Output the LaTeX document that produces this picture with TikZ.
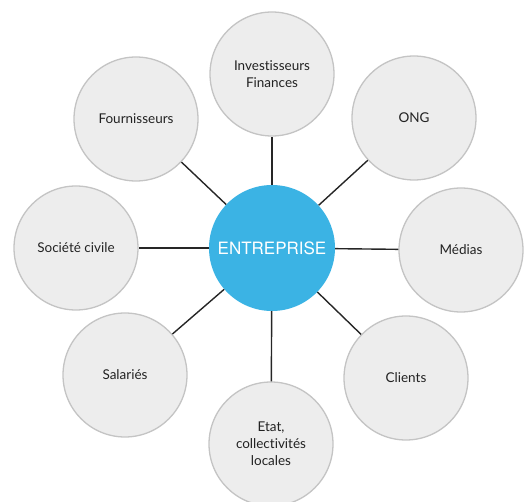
\documentclass[tikz,border=0pt]{standalone}
\usepackage{fontspec}
\setmainfont[Ligatures={NoCommon,NoRare}]{Lato}
\newfontfamily\heros{TeX Gyre Heros}
\usepackage{xcolor}
\usepackage{tikz}
\definecolor{hubblue}{HTML}{3BB3E4}
\definecolor{bubblefill}{HTML}{EDEDED}
\definecolor{bubbleline}{HTML}{C4C4C4}
\definecolor{labeltext}{HTML}{222222}
\tikzstyle{actor} = [circle, minimum size=124pt, inner sep=0pt, align=center, fill=bubblefill, draw=bubbleline, line width=1.3pt, text=labeltext, font=\fontsize{13.5}{17}\selectfont]
\tikzstyle{hub} = [circle, minimum size=126pt, inner sep=0pt, fill=hubblue, text=white, font=\heros\fontsize{17}{20}\selectfont]
\tikzstyle{link} = [line width=1.4pt, draw=black!85]

\begin{document}
\begin{tikzpicture}[x=1pt,y=-1pt]
    \useasboundingbox (0,0) rectangle (525,502);
    \node[hub] (ent) at (272,248) {ENTREPRISE};
    % stakeholders around the company
    \node[actor] (inv) at (272,74) {Investisseurs\\Finances};
    \node[actor] (ong) at (414,118) {ONG};
    \node[actor] (med) at (461,250) {M\'edias};
    \node[actor] (cli) at (406,378) {Clients};
    \node[actor] (eta) at (271,444) {Etat,\\collectivit\'es\\locales};
    \node[actor] (sal) at (125,375) {Salari\'es};
    \node[actor] (soc) at (76,248) {Soci\'et\'e civile};
    \node[actor] (fou) at (136,119) {Fournisseurs};
    % links
    \foreach \n in {inv,ong,med,cli,eta,sal,soc,fou}
        \draw[link] (ent) -- (\n);
\end{tikzpicture}
\end{document}
